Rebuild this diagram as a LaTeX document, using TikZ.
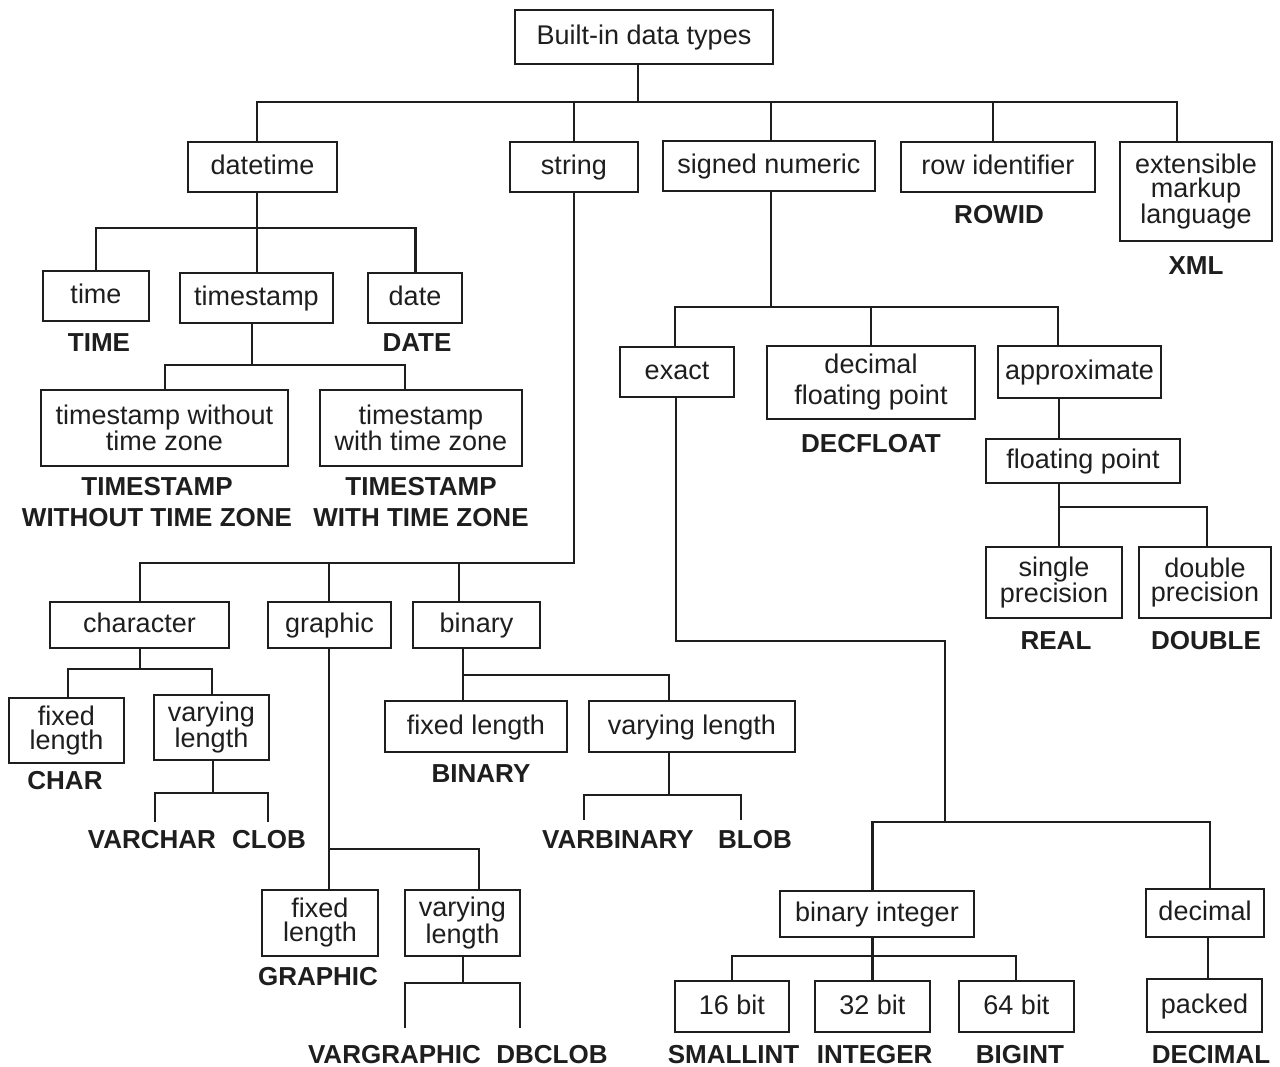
\documentclass[tikz,border=0pt]{standalone}
\usepackage{fontspec}
\setmainfont{Liberation Sans}
\definecolor{ink}{HTML}{1E1E1E}
\newcommand\boxfnt{\fontsize{27}{24}\selectfont}
\newcommand\boxfntw{\fontsize{27}{31}\selectfont}
\newcommand\labfnt{\fontsize{26}{31}\selectfont\bfseries}
\newcommand\tedge[5]{\draw[conn] (#1.south -| #2,0) -- (#2,#3) -| (#4.north -| #5,0);}
\begin{document}
\begin{tikzpicture}[x=1pt,y=-1pt,
  box/.style={draw=ink, line width=2.8pt, inner sep=0pt, font=\boxfnt, text=ink, align=center},
  one/.style={text height=22pt, text depth=6.5pt},
  sz/.style 2 args={minimum width=#1pt, minimum height=#2pt},
  lab/.style={font=\labfnt, text=ink, inner sep=0pt, align=center},
  capc/.style={text height=18.7pt, text depth=0pt},
  conn/.style={draw=ink, line width=2.4pt}]
\useasboundingbox (0,0) rectangle (1280,1067);
\fill[white] (0,0) rectangle (1280,1067);

% boxes
\node[box,one,sz={258}{54}] (root) at (644,37) {Built-in data types};
\node[box,one,sz={149}{50}] (dt) at (262.5,167) {datetime};
\node[box,one,sz={128}{50}] (str) at (574,167) {string};
\node[box,one,sz={212}{50}] (sgn) at (769,166) {signed numeric};
\node[box,one,sz={194}{50}] (rid) at (998,167) {row identifier};
\node[box,sz={152}{99}] (xml) at (1196,191.5) {extensible\\markup\\language};
\node[box,one,sz={106}{50}] (time) at (96,296) {time};
\node[box,one,sz={153}{50}] (tsp) at (256.5,298) {timestamp};
\node[box,one,sz={94}{50}] (date) at (415,298) {date};
\node[box,sz={247}{76}] (tswo) at (164.5,428) {timestamp without\\time zone};
\node[box,sz={202}{76}] (tsw) at (421,428) {timestamp\\with time zone};
\node[box,one,sz={114}{50}] (exact) at (677,372) {exact};
\node[box,sz={208}{73},font=\boxfntw] (dfp) at (871,382.5) {decimal\\floating point};
\node[box,one,sz={163}{52}] (appr) at (1079.5,372) {approximate};
\node[box,one,sz={194}{44}] (fp) at (1083,461) {floating point};
\node[box,sz={136}{71}] (sp) at (1054,582.5) {single\\precision};
\node[box,sz={132}{71}] (dp) at (1205,582.5) {double\\precision};
\node[box,one,sz={179}{46}] (chr) at (139.5,625) {character};
\node[box,one,sz={123}{46}] (gra) at (329.5,625) {graphic};
\node[box,one,sz={127}{46}] (bin) at (476.5,625) {binary};
\node[box,sz={115}{65}] (cfix) at (66.5,730.5) {fixed\\length};
\node[box,sz={115}{65}] (cvar) at (211.5,727.5) {varying\\length};
\node[box,one,sz={182}{51}] (bfix) at (476,726.5) {fixed length};
\node[box,one,sz={206}{51}] (bvar) at (692,726.5) {varying length};
\node[box,sz={116}{66}] (gfix) at (320,923) {fixed\\length};
\node[box,sz={115}{66}] (gvar) at (462.5,923) {varying\\length};
\node[box,one,sz={194}{46}] (bint) at (877,914) {binary integer};
\node[box,one,sz={118}{48}] (dec) at (1205,913) {decimal};
\node[box,one,sz={114}{51}] (b16) at (732,1006.5) {16 bit};
\node[box,one,sz={115}{51}] (b32) at (872.5,1006.5) {32 bit};
\node[box,one,sz={115}{51}] (b64) at (1016.5,1006.5) {64 bit};
\node[box,one,sz={115}{53}] (pk) at (1204.5,1005.5) {packed};

% labels
\node[lab,capc] (lrowid) at (999,214) {ROWID};
\node[lab,capc] (lxml) at (1196,265) {XML};
\node[lab,capc] (ltime) at (99,342) {TIME};
\node[lab,capc] (ldate) at (417,342) {DATE};
\node[lab] (ltswo) at (157,502.5) {TIMESTAMP\\WITHOUT TIME ZONE};
\node[lab] (ltsw) at (421,502.5) {TIMESTAMP\\WITH TIME ZONE};
\node[lab,capc] (ldfp) at (871,443) {DECFLOAT};
\node[lab,capc] (lreal) at (1056,640) {REAL};
\node[lab,capc] (ldbl) at (1206,640) {DOUBLE};
\node[lab,capc] (lchar) at (65,780) {CHAR};
\node[lab,capc] (lvarchar) at (152,839) {VARCHAR};
\node[lab,capc] (lclob) at (269,839) {CLOB};
\node[lab,capc] (lbinary) at (481,773) {BINARY};
\node[lab,capc] (lvarbin) at (618,839) {VARBINARY};
\node[lab,capc] (lblob) at (755,839) {BLOB};
\node[lab,capc] (lgraphic) at (318,976) {GRAPHIC};
\node[lab,capc] (lvargr) at (394.5,1054) {VARGRAPHIC};
\node[lab,capc] (ldbclob) at (552,1054) {DBCLOB};
\node[lab,capc] (lsmall) at (733.5,1054) {SMALLINT};
\node[lab,capc] (lint) at (874.7,1054) {INTEGER};
\node[lab,capc] (lbig) at (1020,1054) {BIGINT};
\node[lab,capc] (ldecimal) at (1211,1054) {DECIMAL};

% free ends of leaf connectors
\coordinate (v1) at (155,822);
\coordinate (v2) at (268,822);
\coordinate (g1) at (405,1028);
\coordinate (g2) at (520,1028);
\coordinate (w1) at (584,820);
\coordinate (w2) at (741,820);

% connectors
\tedge{root}{638}{102}{dt}{257}
\tedge{root}{638}{102}{str}{574}
\tedge{root}{638}{102}{sgn}{771}
\tedge{root}{638}{102}{rid}{993}
\tedge{root}{638}{102}{xml}{1177}
\tedge{dt}{257}{228}{time}{96}
\tedge{dt}{257}{228}{tsp}{257}
\tedge{dt}{257}{228}{date}{415.5}
\tedge{tsp}{252}{365}{tswo}{165}
\tedge{tsp}{252}{365}{tsw}{405}
\tedge{str}{574}{563}{chr}{140}
\tedge{str}{574}{563}{gra}{329}
\tedge{str}{574}{563}{bin}{459}
\tedge{chr}{140}{669}{cfix}{68}
\tedge{chr}{140}{669}{cvar}{212}
\tedge{gra}{329}{849}{gfix}{329}
\tedge{gra}{329}{849}{gvar}{479}
\tedge{bin}{463}{675}{bfix}{463}
\tedge{bin}{463}{675}{bvar}{669}
\tedge{sgn}{771}{307}{exact}{675}
\tedge{sgn}{771}{307}{dfp}{871}
\tedge{sgn}{771}{307}{appr}{1058}
\draw[conn] (exact.south -| 676,0) -- (676,641) -| (945,822) -| (bint.north -| 872.6,0);
\draw[conn] (exact.south -| 676,0) -- (676,641) -| (945,822) -| (dec.north -| 1210,0);
\tedge{bint}{872.6}{956}{b16}{732}
\tedge{bint}{872.6}{956}{b32}{872.6}
\tedge{bint}{872.6}{956}{b64}{1016}
\draw[conn] (dec.south -| 1208,0) -- (pk.north -| 1208,0);
\draw[conn] (appr.south -| 1059,0) -- (fp.north -| 1059,0);
\tedge{fp}{1059}{507}{sp}{1059}
\tedge{fp}{1059}{507}{dp}{1207}
\draw[conn] (cvar.south -| 213,0) -- (213,793) -| (v1);
\draw[conn] (cvar.south -| 213,0) -- (213,793) -| (v2);
\draw[conn] (gvar.south -| 463,0) -- (463,983) -| (g1);
\draw[conn] (gvar.south -| 463,0) -- (463,983) -| (g2);
\draw[conn] (bvar.south -| 669,0) -- (669,795) -| (w1);
\draw[conn] (bvar.south -| 669,0) -- (669,795) -| (w2);
\end{tikzpicture}
\end{document}
